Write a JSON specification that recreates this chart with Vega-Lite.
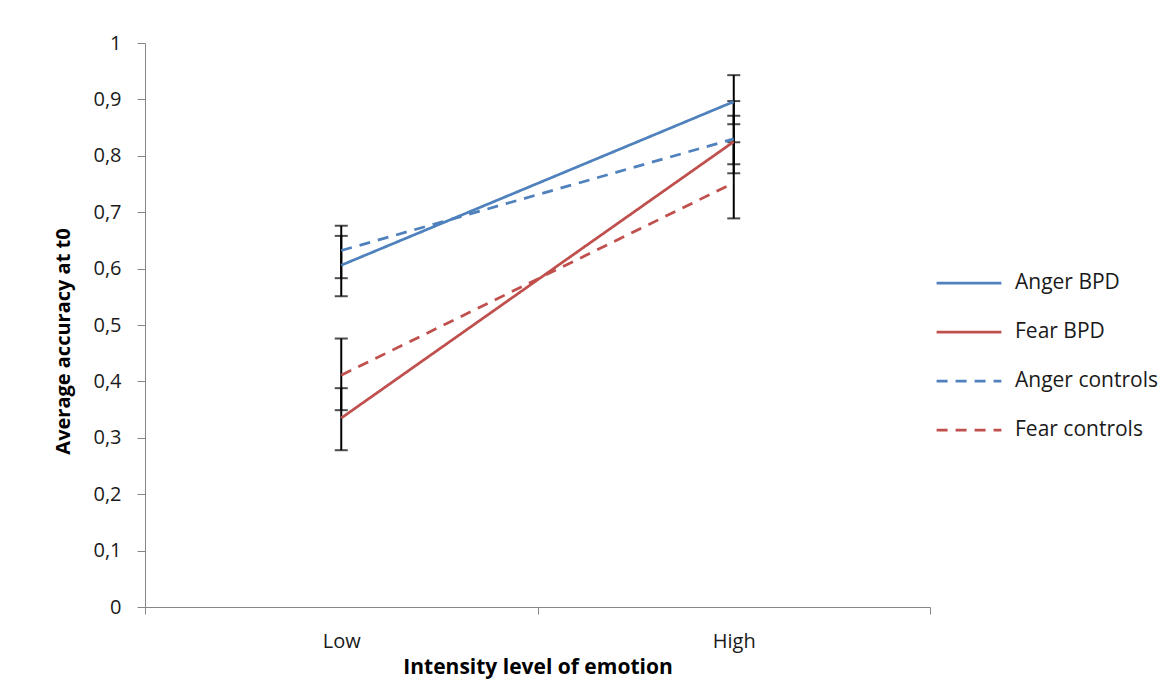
{
  "$schema": "https://vega.github.io/schema/vega-lite/v6.json",
  "autosize": "none",
  "width": 785,
  "height": 564,
  "padding": {"left": 145, "top": 43, "right": 241, "bottom": 77},
  "background": "white",
  "config": {
    "view": {"stroke": null},
    "font": "Open Sans",
    "axis": {"grid": false, "domainColor": "#868686", "tickColor": "#868686", "labelColor": "#1a1a1a", "titleColor": "#000000", "labelFont": "Open Sans", "titleFont": "Open Sans"}
  },
  "data": {
    "values": [
      {"series": "Anger BPD", "level": "Low", "mean": 0.606, "lo": 0.551, "hi": 0.658},
      {"series": "Anger BPD", "level": "High", "mean": 0.896, "lo": 0.856, "hi": 0.943},
      {"series": "Fear BPD", "level": "Low", "mean": 0.335, "lo": 0.278, "hi": 0.388},
      {"series": "Fear BPD", "level": "High", "mean": 0.825, "lo": 0.785, "hi": 0.871},
      {"series": "Anger controls", "level": "Low", "mean": 0.632, "lo": 0.583, "hi": 0.676},
      {"series": "Anger controls", "level": "High", "mean": 0.830, "lo": 0.769, "hi": 0.897},
      {"series": "Fear controls", "level": "Low", "mean": 0.411, "lo": 0.349, "hi": 0.476},
      {"series": "Fear controls", "level": "High", "mean": 0.752, "lo": 0.689, "hi": 0.824}
    ]
  },
  "encoding": {
    "x": {
      "field": "level", "type": "nominal", "sort": ["Low", "High"],
      "scale": {"type": "band", "paddingInner": 0, "paddingOuter": 0},
      "bandPosition": 0.5,
      "axis": {"title": "Intensity level of emotion", "labelAngle": 0, "tickBand": "extent", "tickSize": 7, "labelFontSize": 20, "labelPadding": 17, "titleFontSize": 21, "titleFontWeight": "bold", "titlePadding": 5}
    }
  },
  "layer": [
    {
      "mark": {"type": "rule", "color": "#000000", "strokeWidth": 2},
      "encoding": {
        "y": {"field": "lo", "type": "quantitative"},
        "y2": {"field": "hi"}
      }
    },
    {
      "mark": {"type": "tick", "color": "#000000", "thickness": 2, "size": 13},
      "encoding": {"y": {"field": "lo", "type": "quantitative"}}
    },
    {
      "mark": {"type": "tick", "color": "#000000", "thickness": 2, "size": 13},
      "encoding": {"y": {"field": "hi", "type": "quantitative"}}
    },
    {
      "mark": {"type": "line", "strokeWidth": 2.75},
      "encoding": {
        "y": {
          "field": "mean", "type": "quantitative",
          "scale": {"domain": [0, 1], "nice": false, "zero": true},
          "axis": {"title": "Average accuracy  at t0", "values": [0, 0.1, 0.2, 0.3, 0.4, 0.5, 0.6, 0.7, 0.8, 0.9, 1], "labelExpr": "replace(format(datum.value, '.1~f'), '.', ',')", "tickSize": 8, "labelFontSize": 20, "labelPadding": 16, "titleFontSize": 20, "titleFontWeight": "bold", "titlePadding": 19, "titleY": 298}
        },
        "color": {
          "field": "series", "type": "nominal",
          "scale": {"domain": ["Anger BPD", "Fear BPD", "Anger controls", "Fear controls"], "range": ["#4F81BD", "#C0504D", "#4F81BD", "#C0504D"]},
          "legend": {"title": null, "orient": "none", "legendX": 790, "legendY": 206, "symbolType": "stroke", "symbolSize": 4200, "symbolStrokeWidth": 2.75, "labelFontSize": 21, "labelColor": "#1a1a1a", "labelFont": "Open Sans", "rowPadding": 5, "labelOffset": 12, "labelLimit": 300}
        },
        "strokeDash": {
          "field": "series", "type": "nominal",
          "scale": {"domain": ["Anger BPD", "Fear BPD", "Anger controls", "Fear controls"], "range": [[1, 0], [1, 0], [11, 8], [11, 8]]},
          "legend": {"title": null, "orient": "none", "legendX": 790, "legendY": 206, "symbolType": "stroke", "symbolSize": 4200, "symbolStrokeWidth": 2.75, "labelFontSize": 21, "labelColor": "#1a1a1a", "labelFont": "Open Sans", "rowPadding": 5, "labelOffset": 12, "labelLimit": 300}
        }
      }
    }
  ]
}
